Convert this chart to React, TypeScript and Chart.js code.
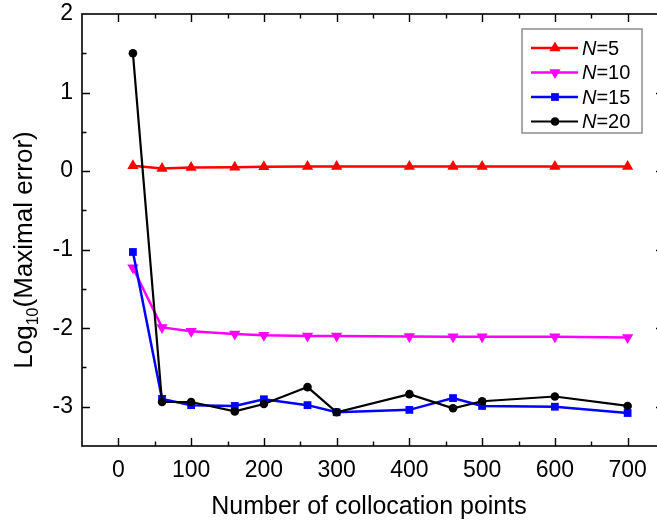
import React, { useEffect, useRef } from "react";
import { Chart, registerables } from "chart.js";

Chart.register(...registerables);

// Number of collocation points used for each run
const collocationPoints = [20, 60, 100, 160, 200, 260, 300, 400, 460, 500, 600, 700];

// log10 of the maximal error for each basis size N
const errN5 = [0.067, 0.034, 0.047, 0.05, 0.055, 0.057, 0.058, 0.06, 0.06, 0.06, 0.06, 0.06];
const errN10 = [-1.23, -1.99, -2.04, -2.075, -2.09, -2.1, -2.1, -2.105, -2.11, -2.11, -2.11, -2.12];
const errN15 = [-1.03, -2.9, -2.98, -2.99, -2.905, -2.98, -3.07, -3.04, -2.89, -2.99, -3.0, -3.08];
const errN20 = [1.5, -2.94, -2.94, -3.06, -2.965, -2.75, -3.07, -2.84, -3.02, -2.93, -2.87, -2.99];

const seriesLabels = ["N=5", "N=10", "N=15", "N=20"];

// Axis tick labels
const xTicks = [0, 100, 200, 300, 400, 500, 600, 700];
const yTicks = [-3, -2, -1, 0, 1, 2];

const X_MIN = -50;
const X_MAX = 750;
const Y_MIN = -3.5;
const Y_MAX = 2;

// The plot frame runs a little past the visible right edge
const CANVAS_W = 664;
const CANVAS_H = 527;

const FONT = "'Liberation Sans', Arial, Helvetica, sans-serif";

type Marker = { style: string; rotation: number; radius: number };

function drawMarker(ctx: CanvasRenderingContext2D, m: Marker, x: number, y: number) {
  const r = m.radius;
  ctx.beginPath();
  if (m.style === "triangle") {
    const dir = m.rotation === 180 ? -1 : 1;
    const h = r * 1.5;
    const half = r * Math.cos(Math.PI / 6);
    ctx.moveTo(x, y - dir * r);
    ctx.lineTo(x + half, y + dir * (h - r));
    ctx.lineTo(x - half, y + dir * (h - r));
    ctx.closePath();
  } else if (m.style === "rect") {
    const s = r * Math.SQRT1_2;
    ctx.rect(x - s, y - s, 2 * s, 2 * s);
  } else {
    ctx.arc(x, y, r, 0, Math.PI * 2);
  }
  ctx.fill();
}

// Closed frame with inward-pointing major and minor ticks on all four sides
const framePlugin = {
  id: "originFrame",
  afterDraw(chart: any) {
    const { ctx, chartArea: a, scales } = chart;
    const xs = scales.x;
    const ys = scales.y;
    ctx.save();
    ctx.strokeStyle = "#000";
    ctx.lineWidth = 1.6;
    ctx.strokeRect(a.left, a.top, a.right - a.left, a.bottom - a.top);
    ctx.lineWidth = 1.4;
    const major = 8;
    const minor = 4.5;
    const xMinor = xTicks.slice(0, -1).map((v, i) => (v + xTicks[i + 1]) / 2);
    xMinor.push(xTicks[0] - 50, xTicks[xTicks.length - 1] + 50);
    const yMinor = yTicks.slice(0, -1).map((v, i) => (v + yTicks[i + 1]) / 2);
    const tickX = (v: number, len: number) => {
      const px = Math.round(xs.getPixelForValue(v)) + 0.5;
      ctx.beginPath();
      ctx.moveTo(px, a.bottom);
      ctx.lineTo(px, a.bottom - len);
      ctx.moveTo(px, a.top);
      ctx.lineTo(px, a.top + len);
      ctx.stroke();
    };
    const tickY = (v: number, len: number) => {
      const py = Math.round(ys.getPixelForValue(v)) + 0.5;
      ctx.beginPath();
      ctx.moveTo(a.left, py);
      ctx.lineTo(a.left + len, py);
      ctx.moveTo(a.right, py);
      ctx.lineTo(a.right - len, py);
      ctx.stroke();
    };
    xTicks.forEach((v) => tickX(v, major));
    xMinor.forEach((v) => {
      if (v > X_MIN && v < X_MAX) tickX(v, minor);
    });
    yTicks.forEach((v) => {
      if (v > Y_MIN && v < Y_MAX) tickY(v, major);
    });
    yMinor.forEach((v) => tickY(v, minor));
    ctx.restore();
  },
};

// Axis titles, the y title carries a subscript
const titlePlugin = {
  id: "axisTitles",
  afterDraw(chart: any) {
    const { ctx } = chart;
    ctx.save();
    ctx.fillStyle = "#000";

    const fx = 25;
    ctx.font = `${fx}px ${FONT}`;
    ctx.textAlign = "center";
    ctx.textBaseline = "alphabetic";
    ctx.fillText("Number of collocation points", 369, 514);

    const fy = 26;
    const sub = Math.round(fy * 0.62);
    ctx.translate(32, 250);
    ctx.rotate(-Math.PI / 2);
    ctx.textAlign = "left";
    ctx.font = `${fy}px ${FONT}`;
    const w1 = ctx.measureText("Log").width;
    const w3 = ctx.measureText("(Maximal error)").width;
    ctx.font = `${sub}px ${FONT}`;
    const w2 = ctx.measureText("10").width;
    const total = w1 + w2 + w3;
    let x = -total / 2;
    ctx.font = `${fy}px ${FONT}`;
    ctx.fillText("Log", x, 0);
    x += w1;
    ctx.font = `${sub}px ${FONT}`;
    ctx.fillText("10", x, 6);
    x += w2;
    ctx.font = `${fy}px ${FONT}`;
    ctx.fillText("(Maximal error)", x, 0);
    ctx.restore();
  },
};

// Boxed legend with italic N
const legendPlugin = {
  id: "boxLegend",
  afterDraw(chart: any) {
    const { ctx } = chart;
    const bx = 522;
    const by = 29;
    const bw = 120;
    const bh = 104;
    ctx.save();
    ctx.fillStyle = "#fff";
    ctx.fillRect(bx, by, bw, bh);
    ctx.strokeStyle = "#8c8c8c";
    ctx.lineWidth = 1.5;
    ctx.strokeRect(bx, by, bw, bh);
    chart.data.datasets.forEach((ds: any, i: number) => {
      const y = by + 19 + i * 24.5;
      ctx.strokeStyle = ds.borderColor;
      ctx.lineWidth = ds.borderWidth;
      ctx.beginPath();
      ctx.moveTo(531, y);
      ctx.lineTo(578, y);
      ctx.stroke();
      ctx.fillStyle = ds.pointBackgroundColor;
      drawMarker(ctx, { style: ds.pointStyle, rotation: ds.pointRotation || 0, radius: ds.pointRadius }, 555, y);
      const [sym, rest] = String(ds.label).split("=");
      ctx.fillStyle = "#000";
      ctx.textBaseline = "middle";
      ctx.textAlign = "left";
      ctx.font = `italic 20px ${FONT}`;
      ctx.fillText(sym, 582, y + 1);
      const ws = ctx.measureText(sym).width;
      ctx.font = `20px ${FONT}`;
      ctx.fillText("=" + rest, 582 + ws, y + 1);
    });
    ctx.restore();
  },
};

function series(values: number[]) {
  return collocationPoints.map((x, i) => ({ x, y: values[i] }));
}

function clearScalePadding(s: any) {
  s.paddingTop = 0;
  s.paddingBottom = 0;
  s.paddingLeft = 0;
  s.paddingRight = 0;
}

export default function App() {
  const canvasRef = useRef<HTMLCanvasElement | null>(null);

  useEffect(() => {
    const canvas = canvasRef.current;
    if (!canvas) return;
    const chart = new Chart(canvas, {
      type: "scatter",
      data: {
        datasets: [
          {
            label: seriesLabels[0],
            data: series(errN5),
            borderColor: "#ff0000",
            backgroundColor: "#ff0000",
            pointBackgroundColor: "#ff0000",
            pointBorderWidth: 0,
            pointStyle: "triangle",
            pointRadius: 6.5,
            borderWidth: 2.5,
            showLine: true,
            order: 3,
          },
          {
            label: seriesLabels[1],
            data: series(errN10),
            borderColor: "#ff00ff",
            backgroundColor: "#ff00ff",
            pointBackgroundColor: "#ff00ff",
            pointBorderWidth: 0,
            pointStyle: "triangle",
            pointRotation: 180,
            pointRadius: 6.5,
            borderWidth: 2.5,
            showLine: true,
            order: 2,
          },
          {
            label: seriesLabels[2],
            data: series(errN15),
            borderColor: "#0000ff",
            backgroundColor: "#0000ff",
            pointBackgroundColor: "#0000ff",
            pointBorderWidth: 0,
            pointStyle: "rect",
            pointRadius: 5.5,
            borderWidth: 2.5,
            showLine: true,
            order: 1,
          },
          {
            label: seriesLabels[3],
            data: series(errN20),
            borderColor: "#000000",
            backgroundColor: "#000000",
            pointBackgroundColor: "#000000",
            pointBorderWidth: 0,
            pointStyle: "circle",
            pointRadius: 4.3,
            borderWidth: 2.2,
            showLine: true,
            order: 0,
          },
        ],
      },
      options: {
        responsive: false,
        animation: false,
        devicePixelRatio: 1,
        layout: { autoPadding: false, padding: { top: 14, right: 0, bottom: 0, left: 0 } },
        plugins: {
          legend: { display: false },
          tooltip: { enabled: false },
        },
        scales: {
          x: {
            type: "linear",
            min: X_MIN,
            max: X_MAX,
            grid: { display: false, drawTicks: false },
            border: { display: false },
            afterBuildTicks: (s: any) => {
              s.ticks = xTicks.map((value) => ({ value }));
            },
            afterFit: (s: any) => {
              s.height = 81;
              clearScalePadding(s);
            },
            ticks: {
              color: "#000",
              padding: 11,
              maxRotation: 0,
              autoSkip: false,
              font: { family: FONT, size: 23 },
              callback: (v: any) => String(v),
            },
          },
          y: {
            type: "linear",
            min: Y_MIN,
            max: Y_MAX,
            grid: { display: false, drawTicks: false },
            border: { display: false },
            afterBuildTicks: (s: any) => {
              s.ticks = yTicks.map((value) => ({ value }));
            },
            afterFit: (s: any) => {
              s.width = 82;
              clearScalePadding(s);
            },
            ticks: {
              color: "#000",
              padding: 9,
              autoSkip: false,
              font: { family: FONT, size: 23 },
              callback: (v: any) => String(v),
            },
          },
        },
      },
      plugins: [framePlugin, titlePlugin, legendPlugin],
    });
    return () => chart.destroy();
  }, []);

  return (
    <div
      style={{
        position: "fixed",
        left: 0,
        top: 0,
        width: 657,
        height: CANVAS_H,
        overflow: "hidden",
        background: "#fff",
      }}
    >
      <div style={{ position: "relative", width: CANVAS_W, height: CANVAS_H }}>
        <canvas
          ref={canvasRef}
          width={CANVAS_W}
          height={CANVAS_H}
          style={{ width: CANVAS_W, height: CANVAS_H, display: "block" }}
        />
      </div>
    </div>
  );
}
